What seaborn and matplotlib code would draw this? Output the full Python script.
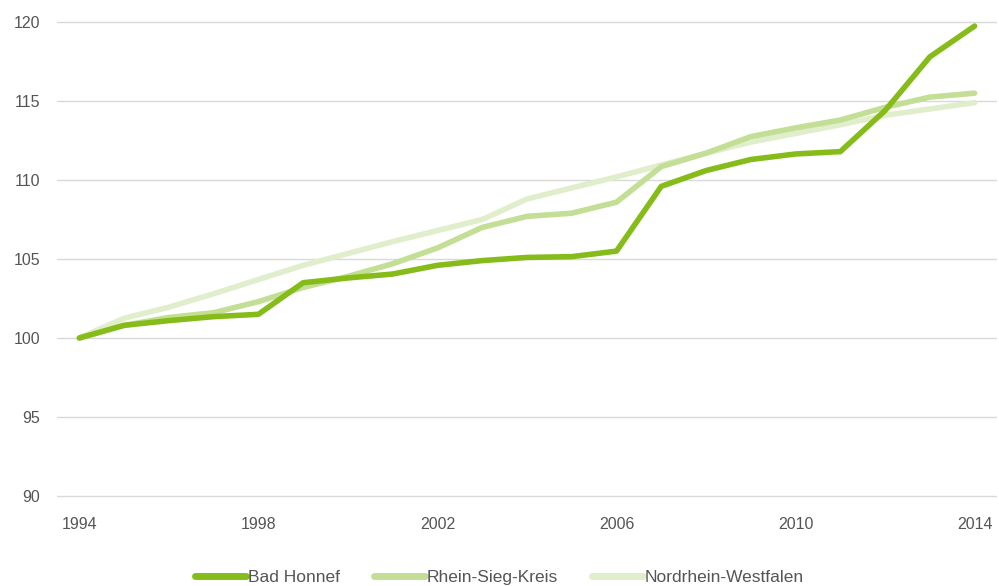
import pandas as pd
import matplotlib.pyplot as plt
import seaborn as sns

# --- Data (index, 1994 = 100) ---
years = list(range(1994, 2015))
bad_honnef = [100.0, 100.8, 101.1, 101.35, 101.5, 103.5, 103.8, 104.05, 104.6, 104.9,
              105.1, 105.15, 105.5, 109.6, 110.6, 111.3, 111.65, 111.8, 114.4, 117.8, 119.75]
rhein_sieg = [100.0, 100.8, 101.3, 101.6, 102.3, 103.2, 103.9, 104.7, 105.7, 107.0,
              107.7, 107.9, 108.6, 110.85, 111.7, 112.75, 113.3, 113.8, 114.6, 115.25, 115.5]
nrw = [100.0, 101.25, 101.95, 102.8, 103.7, 104.6, 105.35, 106.1, 106.8, 107.5,
       108.8, 109.5, 110.2, 110.95, 111.7, 112.4, 112.95, 113.5, 114.1, 114.5, 114.9]

series_names = ["Bad Honnef", "Rhein-Sieg-Kreis", "Nordrhein-Westfalen"]
colors = ["#86bc1a", "#c3de95", "#e1eecb"]

df = pd.DataFrame({"year": years,
                   "Bad Honnef": bad_honnef,
                   "Rhein-Sieg-Kreis": rhein_sieg,
                   "Nordrhein-Westfalen": nrw})
df_long = df.melt(id_vars="year", var_name="region", value_name="index")

sns.set_theme(style="white")
plt.rcParams["font.family"] = ["Liberation Sans", "DejaVu Sans"]

fig = plt.figure(figsize=(9.99, 5.86), dpi=100)
# axes spans y 89.9..120.1 so the 90 and 120 gridlines are fully drawn
ax = fig.add_axes([0.057, 0.151, 0.941, 0.814])

# draw lightest first so Bad Honnef sits on top
for name, col in reversed(list(zip(series_names, colors))):
    sub = df_long[df_long["region"] == name]
    sns.lineplot(data=sub, x="year", y="index", ax=ax, color=col, linewidth=4,
                 solid_capstyle="round", solid_joinstyle="round",
                 clip_on=False, legend=False)

ax.set_xlim(1993.5, 2014.5)
ax.set_ylim(89.9, 120.1)
ax.set_yticks([90, 95, 100, 105, 110, 115, 120])
ax.set_xticks([1994, 1998, 2002, 2006, 2010, 2014])
ax.grid(axis="y", color="#d9d9d9", linewidth=1)
ax.set_axisbelow(True)
for s in ax.spines.values():
    s.set_visible(False)
ax.tick_params(axis="both", length=0, labelsize=11.5, labelcolor="#555555")
ax.tick_params(axis="x", pad=14)
ax.tick_params(axis="y", pad=12)
ax.set_xlabel("")
ax.set_ylabel("")

# legend in original order
handles = [plt.Line2D([], [], color=c, linewidth=5, solid_capstyle="round") for c in colors]
fig.legend(handles, series_names, loc="lower center", bbox_to_anchor=(0.5, -0.025),
           ncol=3, frameon=False, fontsize=12.5, handlelength=2.9, handletextpad=0.1,
           columnspacing=2.0, labelcolor="#555555")

fig.savefig("out.png", dpi=100)
